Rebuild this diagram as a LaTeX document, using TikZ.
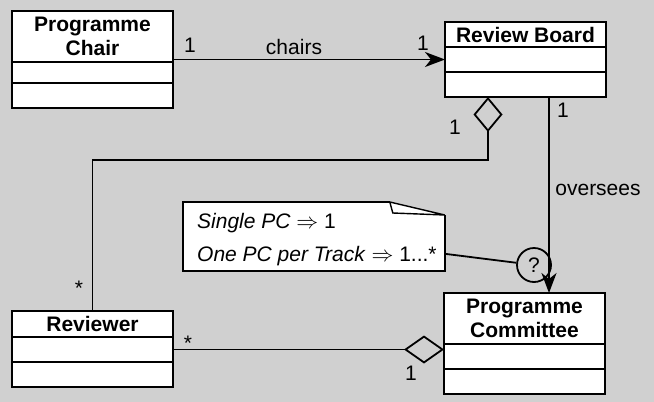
\documentclass[tikz,border=0pt]{standalone}
\usepackage{fontspec}
\setmainfont{Liberation Sans}
\usetikzlibrary{positioning,arrows.meta,calc}
\definecolor{bgGray}{RGB}{208,208,208}

\tikzset{
  classhead/.style={draw, fill=white, outer sep=0pt, inner sep=0pt, minimum width=80.5pt,
    anchor=north west, align=center, font=\fontsize{10.5}{12}\selectfont\bfseries},
  classpart/.style={draw, fill=white, outer sep=0pt, inner sep=0pt, minimum width=80.5pt,
    minimum height=12.5pt},
  notebox/.style={anchor=north west, minimum width=130pt, minimum height=33.5pt, inner sep=0pt,
    align=left, font=\fontsize{10.5}{16.5}\selectfont},
  ask/.style={circle, draw, inner sep=0pt, minimum size=17pt},
  aggShort/.tip={Diamond[open, length=17.5pt, width=14.5pt]},
  aggLong/.tip={Diamond[open, length=20pt, width=14pt]},
}

\begin{document}
\begin{tikzpicture}[x=0.5pt, y=-0.5pt, line width=0.9pt, font=\fontsize{10.5}{12}\selectfont,
  >={Stealth[length=10pt, width=7.5pt, inset=3pt]}]
\useasboundingbox[fill=bgGray] (0,0) rectangle (654,402);

% classes
\node[classhead, minimum height=25.5pt] (chair) at (12,11) {Programme\\Chair};
\node[classpart, minimum height=10.5pt, below=0pt of chair] (chairA) {};
\node[classpart, below=0pt of chairA] (chairB) {};

\node[classhead, minimum height=12.5pt] (board) at (445,22) {Review Board};
\node[classpart, below=0pt of board] (boardA) {};
\node[classpart, below=0pt of boardA] (boardB) {};

\node[classhead, minimum height=13pt] (rev) at (12,311) {Reviewer};
\node[classpart, below=0pt of rev] (revA) {};
\node[classpart, below=0pt of revA] (revB) {};

\node[classhead, minimum height=25.5pt] (pc) at (444,293) {Programme\\Committee};
\node[classpart, below=0pt of pc] (pcA) {};
\node[classpart, below=0pt of pcA] (pcB) {};

% chairs
\draw[->] (chair.east |- boardA.west) -- (boardA.west);
\node at (190,45) {1};
\node at (294,47) {chairs};
\node at (423,43) {1};

% board aggregates reviewers
\coordinate (aggTop) at ($(boardB.south west)+(43,0)$);
\draw[aggShort-] (aggTop) -- ++(0,63) -| (rev.north);
\node at (455,127) {1};
\node at (79,288) {*};

% oversees
\coordinate (ovTop) at ($(boardB.south west)+(104,0)$);
\draw[->] (ovTop) -- (ovTop |- pc.north);
\node at (563,110) {1};
\node at (598,190) {oversees};

% reviewer -- committee
\draw[-aggLong] (revA.east) -- (revA.east -| pc.west);
\node at (188,343) {*};
\node at (411,373) {1};

% note
\node[notebox, fill=white] (note) at (183,202)
  {\hspace{3pt}\rule{0pt}{11pt}\textit{Single PC} $\Rightarrow$ 1\\\hspace{3pt}\textit{One PC per Track} $\Rightarrow$ 1...*};
\fill[bgGray] ($(note.north east)+(-55,0)$) -- (note.north east) -- ($(note.north east)+(0,13)$) -- cycle;
\draw ($(note.north east)+(-55,0)$) -- (note.north west) -- (note.south west)
  -- (note.south east) -- ($(note.north east)+(0,13)$);
\draw[line width=0.7pt] ($(note.north east)+(-55,0)$) -- ($(note.north east)+(0,13)$)
  -- ($(note.north east)+(-52,11)$) -- cycle;
\coordinate (noteLink) at ($(note.south east)+(0,-17)$);
\node[ask] (q) at (534,265) {?};
\draw (noteLink) -- (q);

\end{tikzpicture}
\end{document}
